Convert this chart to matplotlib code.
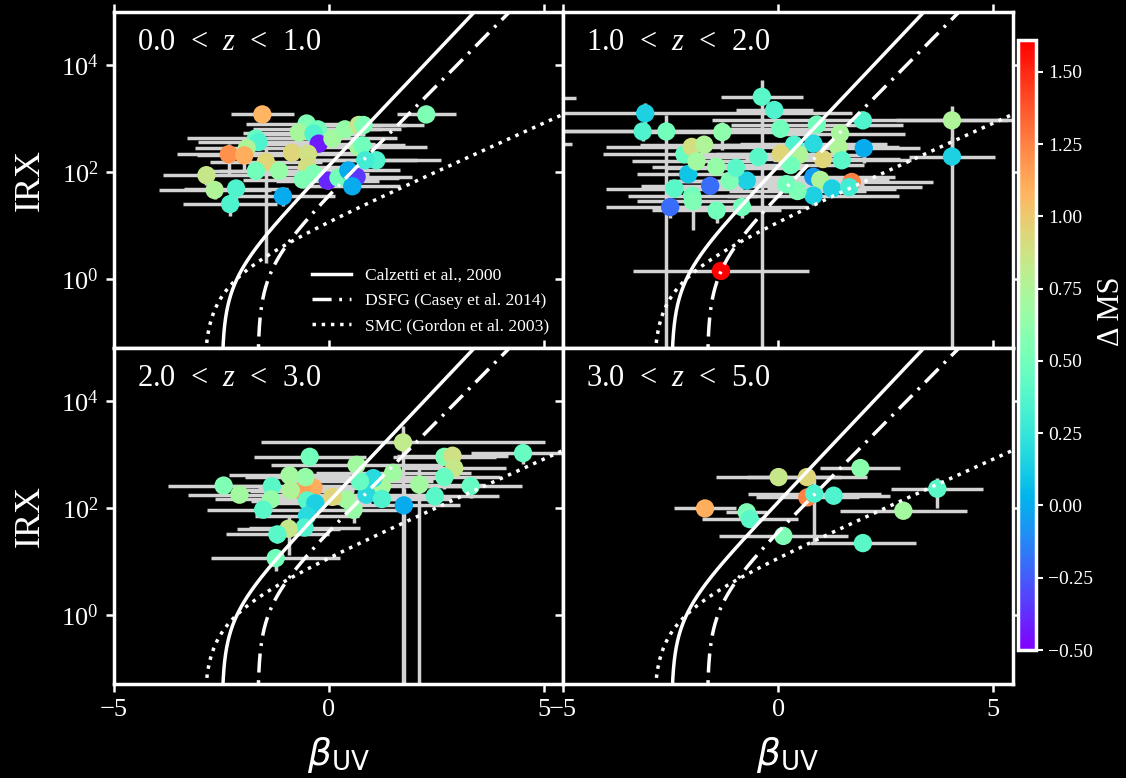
import numpy as np
import matplotlib
matplotlib.use("Agg")
import matplotlib.pyplot as plt
from matplotlib.ticker import FixedLocator, NullLocator

# ---------------------------------------------------------------- data
# 0.0 < z < 1.0
beta_z1 = [-1.54, 2.27, -0.51, -0.69, -0.25, -0.35, -0.23, 0.09, 0.38, 0.70,
           0.81, 0.69, 0.78, 1.11, 0.85, -1.69, -1.63, -1.90, -2.32, -1.96,
           -1.46, -0.85, -0.48, -0.50, -1.69, -1.15, -2.84, -2.65, -2.15, -2.29,
           -1.06, -0.60, -0.35, -0.02, 0.23, 0.46, 0.65, 0.55]
irx_z1 = [1200, 1200, 810, 550, 630, 525, 340, 425, 630, 760,
          760, 295, 315, 166, 166, 425, 365, 280, 215, 205,
          155, 230, 220, 126, 105, 105, 87, 46, 49, 25,
          35, 72, 93, 69, 78, 107, 81, 54]
beta_err_z1 = [0.73, 0.69, 1.40, 1.30, 1.50, 1.20, 1.30, 1.50, 1.30, 1.10,
               1.40, 1.60, 1.00, 1.50, 1.20, 1.60, 1.40, 1.20, 1.20, 1.10,
               1.30, 1.50, 1.50, 1.30, 1.30, 1.40, 1.00, 1.30, 1.20, 1.10,
               1.20, 1.40, 1.30, 1.20, 1.40, 1.20, 1.30, 1.10]
irx_err_z1 = [250, 300, 150, 120, 130, 100, 80, 90, 120, 150,
              150, 60, 60, 40, 40, 90, 80, 60, 125, 100,
              153, 60, 50, 30, 35, 30, 30, 15, 20, 10,
              12, 20, 25, 20, 20, 30, 25, 15]
dms_z1 = [1.08, 0.55, 0.55, 0.72, 0.50, 0.35, -0.42, 0.70, 0.65, 0.85,
          0.55, 0.72, 0.50, 0.35, 0.30, 0.45, 0.35, 0.75, 1.20, 1.10,
          0.95, 0.95, 0.88, 0.90, 0.50, 0.65, 0.85, 0.75, 0.35, 0.35,
          0.00, 0.55, 0.55, -0.40, 0.50, 0.00, -0.35, 0.00]

# 1.0 < z < 2.0
beta_z2 = [-0.38, -0.09, -3.09, -3.15, -2.60, -1.30, 0.05, 0.90, 1.97, 4.04,
           4.04, 1.44, 1.40, 1.48, 1.99, 0.82, 0.37, 0.06, 0.49, 1.04,
           0.29, 0.82, 0.98, 1.25, 1.71, 1.65, 0.82, 0.45, 0.19, -0.46,
           -0.73, -0.84, -1.43, -1.13, -0.98, -1.44, -1.58, -2.09, -2.41, -2.51,
           -2.00, -1.98, -2.18, -2.01, -1.72, -1.90, -1.33, -6.00, -5.80]
irx_z2 = [2570, 1450, 1260, 575, 575, 560, 645, 775, 930, 930,
          195, 525, 295, 166, 280, 340, 325, 220, 210, 175,
          135, 81, 71, 49, 65, 52, 36, 44, 59, 190,
          69, 22, 19, 68, 120, 126, 55, 91, 49, 22,
          36, 28, 215, 295, 325, 158, 1.4, 2400, 330]
beta_err_z2 = [0.95, 0.90, 4.80, 4.00, 3.50, 1.80, 1.50, 2.00, 3.50, 1.30,
               1.00, 1.50, 1.40, 1.60, 1.30, 1.70, 1.60, 1.50, 1.50, 1.80,
               1.70, 1.90, 1.60, 1.50, 1.90, 1.70, 2.00, 1.60, 1.80, 1.50,
               1.60, 1.50, 1.50, 1.40, 1.60, 1.50, 1.60, 1.20, 1.60, 1.50,
               1.50, 1.30, 1.90, 2.00, 1.50, 1.50, 2.05, 1.30, 1.00]
irx_err_z2 = [2700, 250, 700, 200, 600, 300, 150, 150, 150, 800,
              250, 80, 60, 40, 130, 70, 60, 40, 40, 40,
              30, 20, 20, 15, 15, 15, 12, 12, 15, 40,
              20, 8, 8, 20, 30, 30, 15, 25, 15, 8,
              10, 20, 50, 60, 60, 40, 0.3, 300, 50]
dms_z2 = [0.40, 0.35, 0.15, 0.35, 0.50, 0.62, 0.50, 0.50, 0.35, 0.75,
          0.15, 0.72, 0.75, 0.40, 0.00, 0.20, 0.35, 0.95, 0.75, 0.95,
          0.50, -0.05, 0.75, 0.15, 1.25, 0.30, 0.15, 0.55, 0.50, 0.40,
          0.15, 0.50, 0.50, 0.55, 0.40, 0.65, -0.20, 0.10, 0.40, -0.20,
          0.50, 0.55, 0.45, 0.90, 0.75, 0.70, 1.61, 0.50, 0.50]

# 2.0 < z < 3.0
beta_z3 = [-0.44, 1.73, 4.52, 2.69, 2.88, 2.92, 2.69, 2.11, 3.30, 2.47,
           1.75, 1.50, 1.24, 1.04, 0.88, 1.24, 0.73, 0.65, 0.58, 0.42,
           0.09, -0.35, -0.62, -0.54, -0.91, -0.88, -0.50, -0.31, -0.50, -0.56,
           -0.93, -1.19, -1.23, -1.32, -1.34, -1.52, -2.44, -2.07]
irx_z3 = [910, 1700, 1070, 910, 955, 560, 380, 275, 257, 166,
          112, 457, 257, 363, 178, 148, 316, 645, 93, 145,
          162, 240, 210, 380, 410, 214, 138, 123, 72, 43,
          41, 32, 11.5, 257, 145, 93, 263, 178]
beta_err_z3 = [1.30, 3.30, 1.20, 1.20, 1.30, 1.20, 1.30, 1.50, 1.20, 1.50,
               1.30, 1.80, 2.00, 1.80, 1.50, 1.60, 1.70, 2.00, 1.20, 1.40,
               1.30, 1.30, 1.20, 1.40, 1.40, 1.30, 1.30, 1.30, 1.20, 1.30,
               1.20, 1.20, 1.50, 1.20, 1.30, 1.30, 1.30, 1.20]
irx_err_z3 = [150, 1800, 400, 200, 250, 150, 150, 300, 100, 50,
              130, 100, 60, 80, 40, 40, 70, 150, 40, 35,
              40, 60, 50, 80, 100, 50, 35, 30, 20, 12,
              28, 10, 5, 60, 40, 25, 60, 50]
dms_z3 = [0.50, 0.82, 0.45, 0.55, 0.88, 0.85, 0.45, 0.70, 0.45, 0.40,
          0.00, 0.68, 0.72, 0.20, 0.20, 0.35, 0.45, 0.70, 0.65, 0.70,
          0.95, 1.10, 1.15, 0.65, 0.70, 0.75, 0.40, 0.15, 0.20, 0.35,
          0.85, 0.40, 0.50, 0.40, 0.65, 0.40, 0.55, 0.70]

# 3.0 < z < 5.0
beta_z4 = [-1.70, 0.01, 0.67, 1.91, 0.68, 0.84, 1.29, 3.70, 2.91, -0.73,
           -0.66, 0.12, 1.97]
irx_z4 = [98, 380, 380, 560, 158, 186, 170, 230, 89, 83,
          62, 30, 22]
beta_err_z4 = [0.73, 1.45, 1.40, 0.93, 1.20, 1.55, 1.30, 1.07, 1.47, 0.48,
               1.12, 1.50, 1.24]
irx_err_z4 = [10, 80, 60, 80, 30, 164, 30, 130, 10, 10,
              10, 5, 4]
dms_z4 = [1.10, 0.85, 0.95, 0.60, 1.25, 0.35, 0.35, 0.40, 0.70, 0.55,
          0.40, 0.55, 0.40]

z_labels = ["0.0  <  $z$  <  1.0", "1.0  <  $z$  <  2.0",
            "2.0  <  $z$  <  3.0", "3.0  <  $z$  <  5.0"]
curve_labels = ["Calzetti et al., 2000", "DSFG (Casey et al. 2014)",
                "SMC (Gordon et al. 2003)"]
dms_range = (-0.5, 1.61)

# ---------------------------------------------------------------- style
plt.rcParams.update({
    "font.family": "Liberation Serif",
    "mathtext.fontset": "custom",
    "mathtext.rm": "Liberation Serif",
    "mathtext.it": "Liberation Serif:italic",
    "mathtext.bf": "DejaVu Sans:italic",
    "mathtext.sf": "DejaVu Sans",
    "text.color": "white",
    "axes.edgecolor": "white",
    "axes.labelcolor": "white",
    "xtick.color": "white",
    "ytick.color": "white",
})


def irx_relation(beta, norm, slope, beta0):
    """IRX = norm * (10**(0.4 * slope * (beta - beta0)) - 1)."""
    val = norm * (10 ** (0.4 * slope * (beta - beta0)) - 1.0)
    return np.where(val > 0, val, np.nan)


beta_grid = np.linspace(-5.0, 5.6, 8000)
curves = [
    (irx_relation(beta_grid, 1.0, 2.13, -2.48), "-"),
    (irx_relation(beta_grid, 1.68, 2.04, -3.36 / 2.04), (0, (5.5, 2.2, 0.8, 2.2))),
    (irx_relation(beta_grid, 1.1, 0.91, -2.90), (0, (1, 1.65))),
]

fig = plt.figure(figsize=(11.26, 7.78), dpi=100, facecolor="black")
axes = fig.subplots(2, 2, sharex=True, sharey=True,
                    gridspec_kw=dict(hspace=0, wspace=0))
fig.subplots_adjust(left=0.1008, right=0.8993, bottom=0.1208, top=0.9846)

panels = [
    (beta_z1, irx_z1, beta_err_z1, irx_err_z1, dms_z1),
    (beta_z2, irx_z2, beta_err_z2, irx_err_z2, dms_z2),
    (beta_z3, irx_z3, beta_err_z3, irx_err_z3, dms_z3),
    (beta_z4, irx_z4, beta_err_z4, irx_err_z4, dms_z4),
]

sc = None
for i, (ax, (b, irx, berr, ierr, dms)) in enumerate(zip(axes.flat, panels)):
    ax.set_facecolor("black")
    ax.set_yscale("log")
    ax.errorbar(b, irx, xerr=berr, yerr=ierr, fmt="none", ecolor="#d3d3d3",
                elinewidth=2.5, capsize=0, zorder=1)
    sc = ax.scatter(b, irx, c=dms, cmap="rainbow", vmin=dms_range[0],
                    vmax=dms_range[1], s=175, edgecolors="none", zorder=2)
    handles = []
    for (yc, ls), lab in zip(curves, curve_labels):
        ln, = ax.plot(beta_grid, yc, color="white", lw=2.5, ls=ls, zorder=3,
                      label=lab)
        handles.append(ln)
    ax.text(0.052, 0.886, z_labels[i], transform=ax.transAxes, fontsize=22,
            color="white", va="baseline", ha="left")
    for sp in ax.spines.values():
        sp.set_color("white")
        sp.set_linewidth(2.5)
    ax.tick_params(which="major", direction="out", length=6, width=1.8,
                   labelsize=19, top=True, right=True, pad=5)
    if i == 0:
        ax.legend(handles=handles, loc="lower right", frameon=False,
                  fontsize=12.6, handlelength=2.2, labelcolor="white",
                  borderaxespad=0.4, labelspacing=0.5, handletextpad=0.8)

ax0 = axes[0, 0]
ax0.set_xlim(-5, 5.45)
ax0.set_ylim(10 ** -1.3, 1e5)
ax0.xaxis.set_major_locator(FixedLocator([-5, 0, 5]))
ax0.yaxis.set_major_locator(FixedLocator([1, 1e2, 1e4]))
ax0.yaxis.set_minor_locator(NullLocator())
ax0.xaxis.set_minor_locator(NullLocator())

for ax in axes[:, 0]:
    ax.set_ylabel("IRX", fontsize=26, labelpad=10)
for ax in axes[1, :]:
    ax.set_xlabel(r"$\mathbf{\beta}_{\mathsf{UV}}$", fontsize=27, labelpad=10)

cax = fig.add_axes([0.9041, 0.1645, 0.016, 0.784])
cbar = fig.colorbar(sc, cax=cax)
cbar.set_ticks(np.arange(-0.5, 1.51, 0.25))
cbar.outline.set_edgecolor("white")
cbar.outline.set_linewidth(2.5)
cbar.ax.tick_params(colors="white", labelsize=14, direction="out", length=5,
                    width=1.5)
cbar.set_label("Δ MS", color="white", fontsize=22)
cbar.ax.yaxis.set_label_coords(4.4, 0.555)

fig.savefig("out.png", dpi=100, facecolor="black")
